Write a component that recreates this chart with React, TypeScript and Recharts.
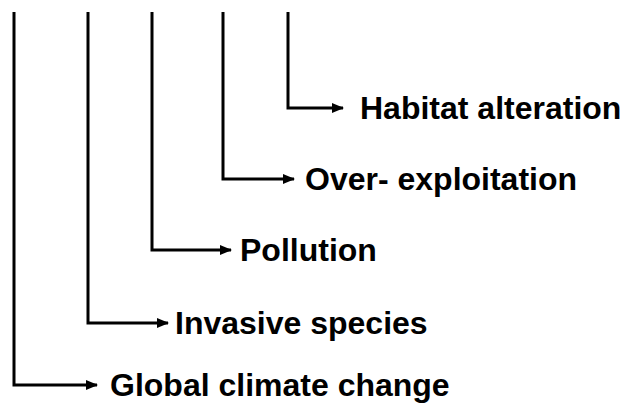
import React from 'react';
import { ComposedChart, Line, XAxis, YAxis } from 'recharts';

// Drivers of biodiversity loss, drawn as a staircase of elbow arrows.
const threats = [
  'Global climate change',
  'Invasive species',
  'Pollution',
  'Over- exploitation',
  'Habitat alteration',
];
const stemX = [14, 88, 152, 223, 288];
const elbowY = [385, 323, 250, 179, 108];
const tipX = [97, 168, 231, 294, 343];
const labelX = [110, 175, 240, 305, 360];
const topY = 12;

const W = 626;
const H = 408;

const ArrowDot = (props: any) => {
  const { cx, cy, index, payload } = props;
  if (index !== 2) return <g key={`d-${cx}-${cy}`} />;
  return (
    <g key={`d-${cx}-${cy}`}>
      <polygon points={`${cx + 1},${cy} ${cx - 11},${cy - 5} ${cx - 11},${cy + 5}`} fill="#000" />
      <text
        x={payload.lx}
        y={cy + 11}
        fontFamily="'Liberation Sans', Arial, sans-serif"
        fontWeight="bold"
        fontSize={32}
        fill="#000"
      >
        {payload.label}
      </text>
    </g>
  );
};

export default function App() {
  const series = threats.map((label, i) => [
    { x: stemX[i], y: topY, label, lx: labelX[i] },
    { x: stemX[i], y: elbowY[i], label, lx: labelX[i] },
    { x: tipX[i], y: elbowY[i], label, lx: labelX[i] },
  ]);

  return (
    <div style={{ position: 'absolute', left: 0, top: 0, background: '#fff' }}>
      <ComposedChart width={W} height={H} margin={{ top: 0, right: 0, bottom: 0, left: 0 }}>
        <XAxis type="number" dataKey="x" domain={[0, W]} hide allowDataOverflow />
        <YAxis type="number" dataKey="y" domain={[0, H]} reversed hide allowDataOverflow />
        {series.map((pts, i) => (
          <Line
            key={threats[i]}
            data={pts}
            dataKey="y"
            type="linear"
            stroke="#000"
            strokeWidth={3}
            strokeLinejoin="miter"
            strokeLinecap="butt"
            dot={ArrowDot}
            activeDot={false}
            isAnimationActive={false}
          />
        ))}
      </ComposedChart>
    </div>
  );
}
